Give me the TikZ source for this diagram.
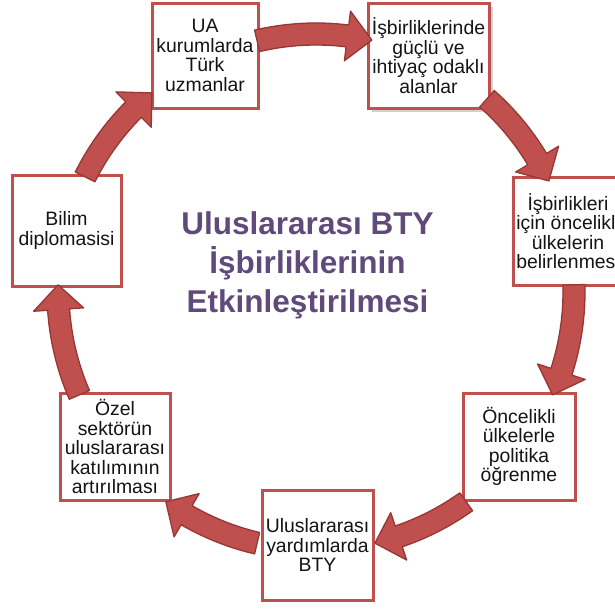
\documentclass[tikz,border=0pt]{standalone}
\usepackage{fontspec}
\setmainfont{Liberation Sans}
\definecolor{boxred}{RGB}{192,80,77}
\definecolor{arrfill}{RGB}{192,80,77}
\definecolor{arrline}{RGB}{150,55,52}
\definecolor{titlepurple}{RGB}{96,74,123}
\definecolor{txtcol}{RGB}{20,20,20}
\tikzset{
  cbox/.style={draw=boxred, line width=3pt, fill=white, inner sep=0pt, align=center,
    text=txtcol, font=\fontsize{19.4}{19.5}\selectfont},
  carrow/.style={fill=arrfill, draw=arrline, line width=1.3pt, line join=round},
}
\newcommand{\cycarrow}[2]{%
  \pgfmathsetmacro{\cyhb}{#2+5.5}%
  \path[carrow] (#1:269pt) arc[start angle=#1, end angle=\cyhb, radius=269pt]
    -- (\cyhb:283pt) -- (#2:258pt) -- (\cyhb:233pt) -- (\cyhb:247pt)
    arc[start angle=\cyhb, end angle=#1, radius=247pt] -- cycle;}
\begin{document}
\begin{tikzpicture}[x=1pt,y=1pt]
\useasboundingbox (0,0) rectangle (615,-608);
\clip (0,0) rectangle (615,-608);
\fill[white] (0,0) rectangle (615,-608);
% shadow of box 2
\fill[black, opacity=0.18] (372,-7) rectangle (493,-112);
% boxes
\node[cbox, minimum width=106pt, minimum height=105pt] (b1) at (205,-55.5) {UA\\kurumlarda\\Türk\\uzmanlar};
\node[cbox, minimum width=121pt, minimum height=105pt] (b2) at (428.5,-55.5) {İşbirliklerinde\\güçlü ve\\ihtiyaç odaklı\\alanlar};
\node[cbox, minimum width=110pt, minimum height=108pt] (b3) at (568,-231) {İşbirlikleri\\için öncelikli\\ülkelerin\\belirlenmesi};
\node[cbox, minimum width=112pt, minimum height=107pt] (b4) at (519,-446.5) {Öncelikli\\ülkelerle\\politika\\öğrenme};
\node[cbox, minimum width=111pt, minimum height=110pt] (b5) at (317.5,-545) {Uluslararası\\yardımlarda\\BTY};
\node[cbox, minimum width=110pt, minimum height=107pt] (b6) at (115,-446.5) {Özel\\sektörün\\uluslararası\\katılımının\\artırılması};
\node[cbox, minimum width=109pt, minimum height=111pt] (b7) at (66.5,-230.5) {Bilim\\diplomasisi};
% title
\node[font=\bfseries\fontsize{31.5}{39}\selectfont, text=titlepurple, align=center, inner sep=0pt]
  (title) at (307.5,-265.5) {Uluslararası BTY\\İşbirliklerinin\\Etkinleştirilmesi};
% cycle arrows
\begin{scope}[shift={(316,-292)}]
\cycarrow{103.2}{77.5}
\cycarrow{48.5}{25.5}
\cycarrow{1.6}{-23.5}
\cycarrow{-54.4}{-76.8}
\cycarrow{-103.2}{-125.6}
\cycarrow{203.5}{178.4}
\cycarrow{153.5}{129.5}
\end{scope}
\end{tikzpicture}
\end{document}
